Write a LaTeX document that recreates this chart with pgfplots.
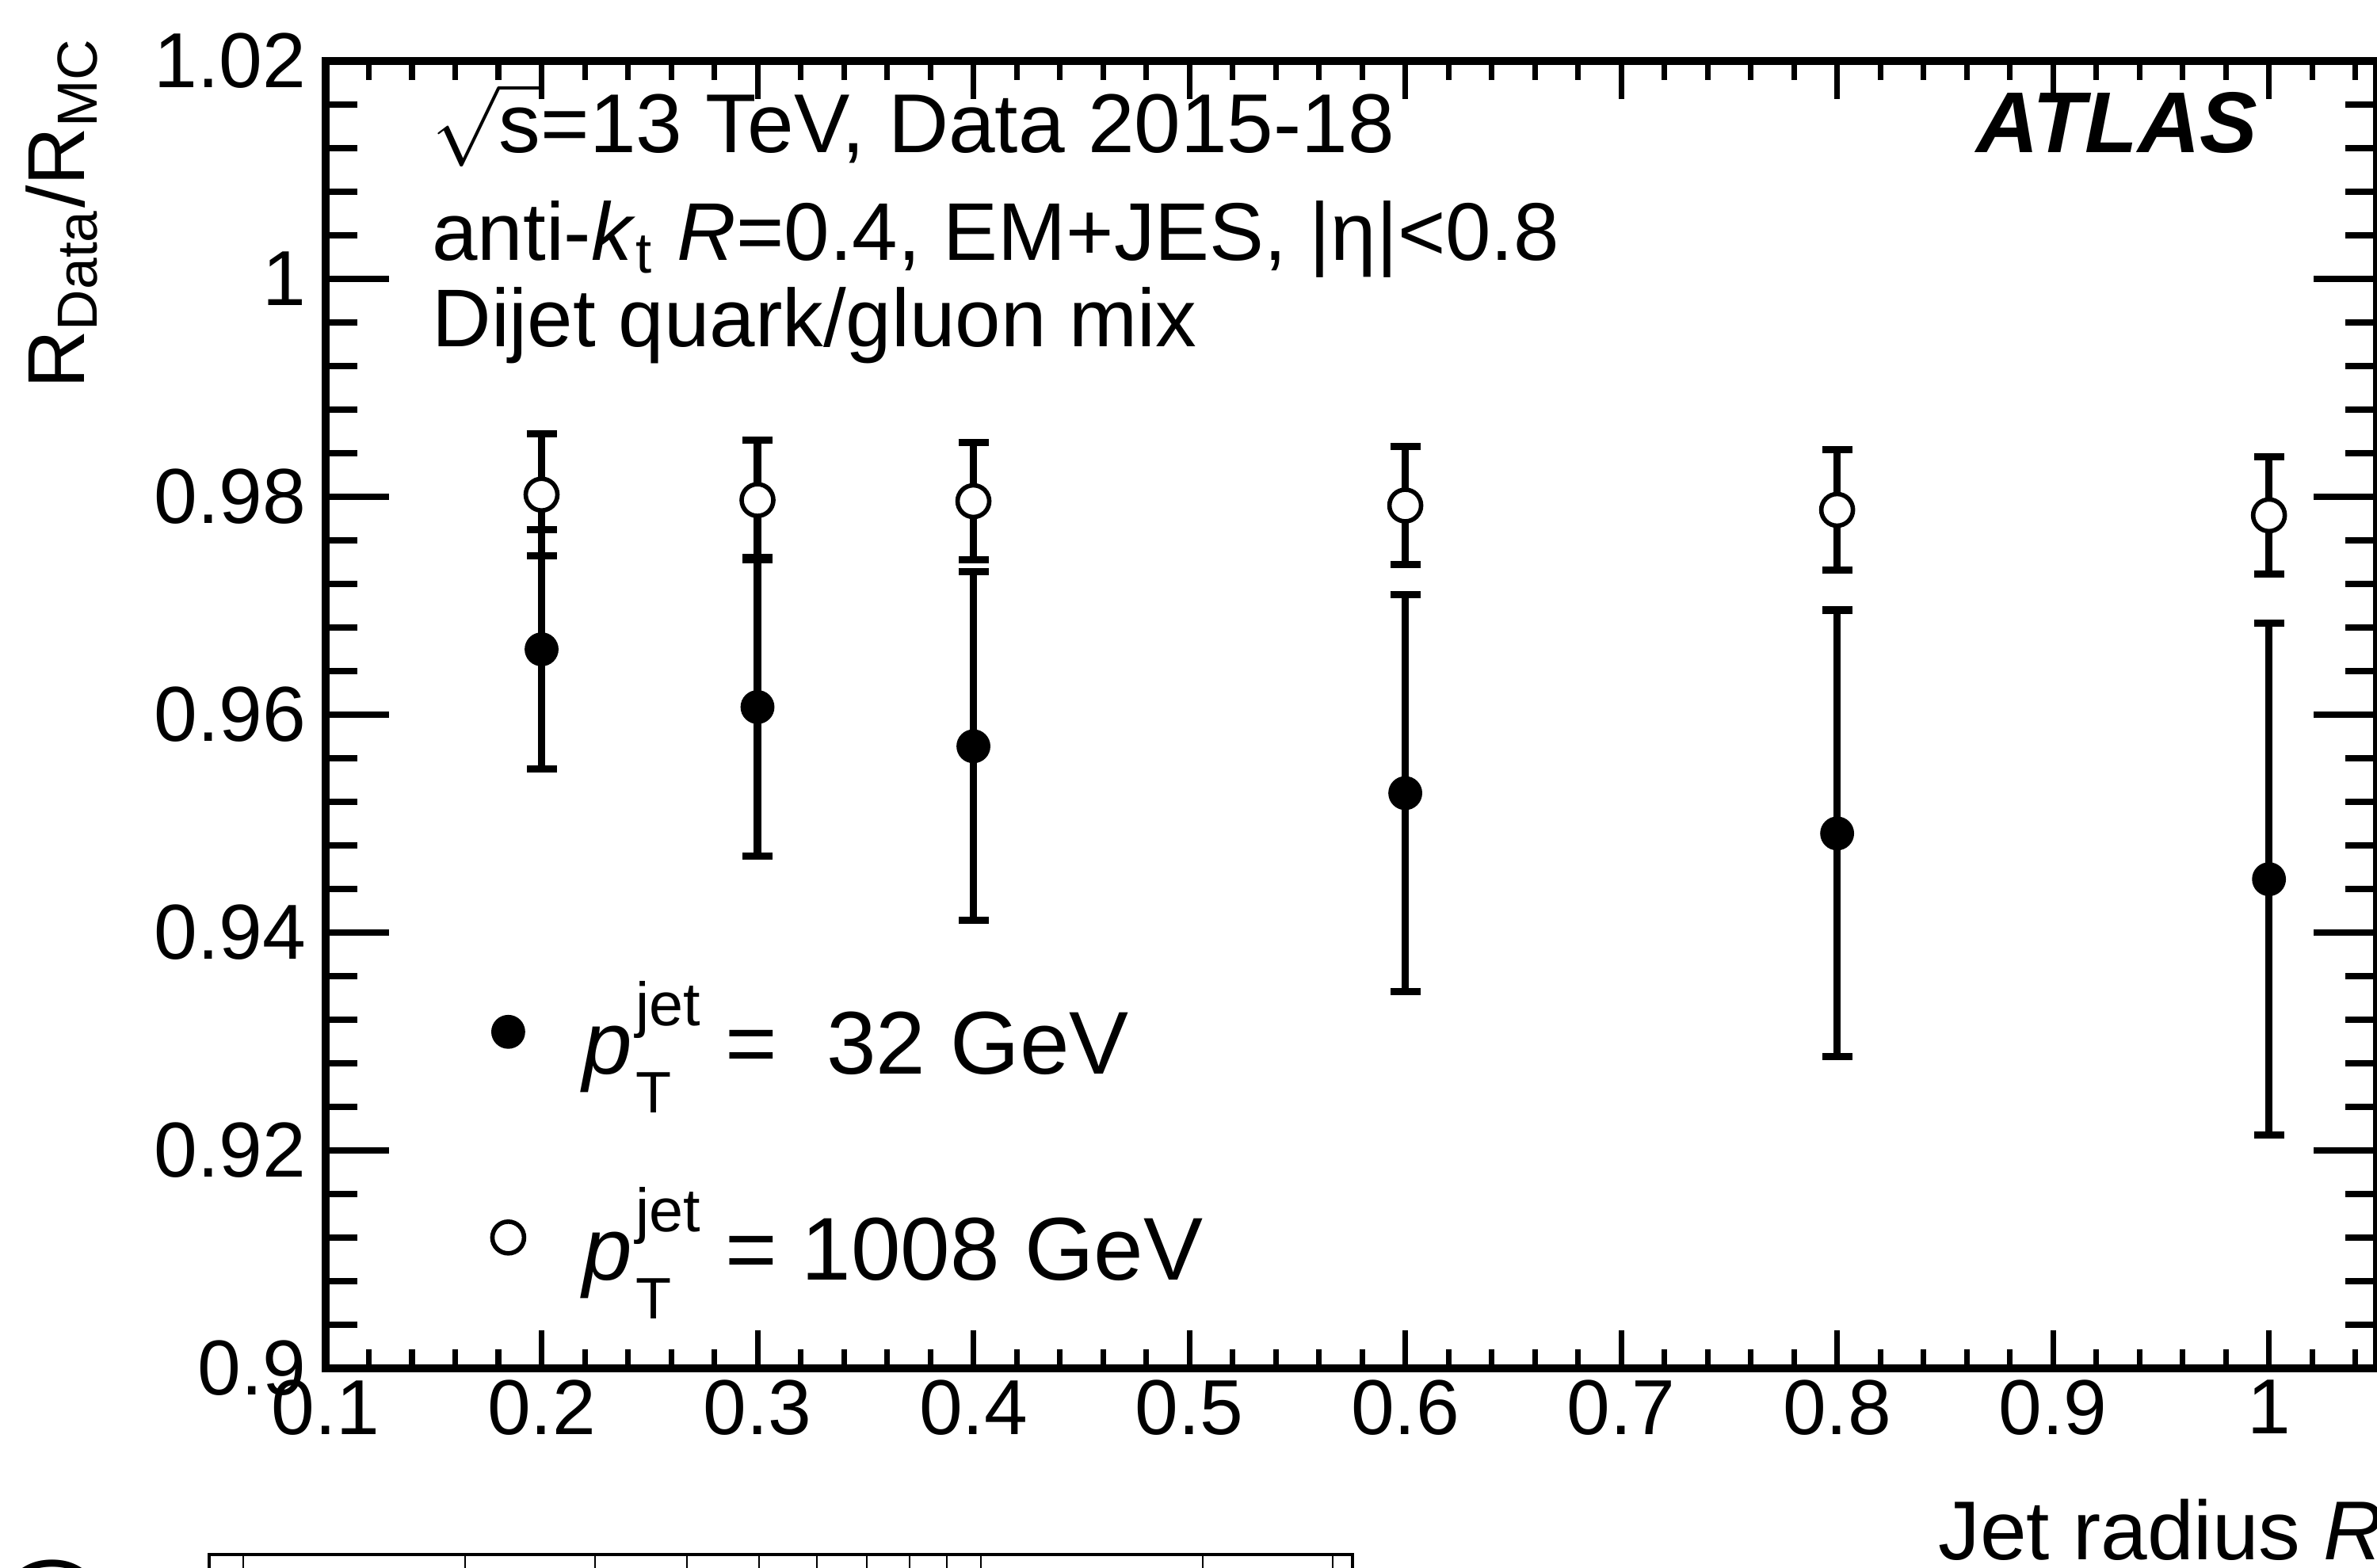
\documentclass[border=0pt]{standalone}
\usepackage{fontspec}
\setmainfont{Liberation Sans}
\usepackage{amsmath}
\usepackage{pgfplots}
\pgfplotsset{compat=1.18}
\pgfplotsset{dotlegend/.style={legend image code/.code={\draw[##1] plot coordinates {(0mm,0mm)};}}}
\newcommand\ptjet{\textit{p}\kern0.6pt\rlap{\raisebox{-2.45mm}{\fontsize{10.5}{12}\selectfont T}}\raisebox{3.05mm}{\fontsize{11}{12}\selectfont jet}}
\pgfplotstableread{
x y e
0.2 0.9660 0.0110
0.3 0.9607 0.0137
0.4 0.9571 0.0160
0.6 0.9528 0.0182
0.8 0.9491 0.0205
1.0 0.9449 0.0235
}\lowpt
\pgfplotstableread{
x y e
0.2 0.9802 0.0056
0.3 0.9797 0.0055
0.4 0.9796 0.0054
0.6 0.9792 0.0054
0.8 0.9788 0.0055
1.0 0.9783 0.0054
}\highpt
\begin{document}
\begin{tikzpicture}
\useasboundingbox (0mm,0mm) rectangle (150mm,98.9mm);
\clip (0mm,0mm) rectangle (150mm,98.9mm);
% main axis with data and x ticks
\begin{axis}[
  at={(20.55mm,12.55mm)}, anchor=south west,
  width=129.45mm, height=82.5mm, scale only axis,
  xmin=0.1, xmax=1.05, ymin=0.9, ymax=1.02,
  xtick={0.1,0.2,0.3,0.4,0.5,0.6,0.7,0.8,0.9,1.0},
  xticklabels={0.1,0.2,0.3,0.4,0.5,0.6,0.7,0.8,0.9,1},
  minor xtick={0.1,0.12,...,1.045},
  ytick=\empty,
  major tick length=2.4mm, minor tick length=1.2mm,
  axis line style={line width=1.3pt},
  every tick/.style={black, line width=1pt},
  xticklabel style={font=\fontsize{14}{16}\selectfont, yshift=0.5mm},
  /pgf/number format/assume math mode=true,
  legend style={draw=none, fill=none, at={(axis cs:0.1767,0.92145)}, anchor=west,
    font=\fontsize{16}{19}\selectfont, row sep=6.6mm, column sep=3.7mm,
    inner sep=0pt, nodes={inner sep=0pt}},
  legend cell align=left,
]
\addplot[only marks, mark=*, mark size=1mm, black, mark options={fill=black, draw=black}, dotlegend,
  error bars/.cd, y dir=both, y explicit,
  error bar style={line width=1.3pt, black},
  error mark options={rotate=90, line width=1.3pt, black, mark size=0.95mm}]
  table[x=x, y=y, y error=e] {\lowpt};
\addlegendentry{\ptjet\ =~~32 GeV}
\addplot[only marks, mark=*, mark size=1mm, black, mark options={fill=white, draw=black, line width=0.8pt}, dotlegend,
  error bars/.cd, y dir=both, y explicit,
  error bar style={line width=1.3pt, black},
  error mark options={rotate=90, line width=1.3pt, black, mark size=0.95mm}]
  table[x=x, y=y, y error=e] {\highpt};
\addlegendentry{\ptjet\ = 1008 GeV}
\end{axis}
% overlay axis for y ticks
\begin{axis}[
  at={(20.55mm,12.55mm)}, anchor=south west,
  width=129.45mm, height=82.5mm, scale only axis,
  xmin=0.1, xmax=1.05, ymin=0.9, ymax=1.02,
  xtick=\empty,
  ytick={0.9,0.92,0.94,0.96,0.98,1.0,1.02},
  yticklabels={0.9,0.92,0.94,0.96,0.98,1,1.02},
  minor ytick={0.9,0.904,...,1.0205},
  major tick length=4mm, minor tick length=2mm,
  axis line style={line width=1.3pt},
  every tick/.style={black, line width=1pt},
  yticklabel style={font=\fontsize{14}{16}\selectfont},
  /pgf/number format/assume math mode=true,
]
\end{axis}
% fragment of the panel below
\begin{axis}[
  at={(13.2mm,0.8mm)}, anchor=north west,
  width=72.15mm, height=30mm, scale only axis,
  xmode=log, xmin=9, xmax=319, ymin=0, ymax=1,
  xtick={10,100}, minor xtick={20,30,40,50,60,70,80,90,200,300},
  xticklabels={}, ytick=\empty,
  major tick length=3mm, minor tick length=3mm,
  axis line style={line width=0.6pt},
  every tick/.style={black, line width=0.3pt},
]
\end{axis}
\node[rotate=90, anchor=base east, inner sep=0pt, font=\fontsize{14.5}{17}\selectfont] at (5.35mm,96.65mm) {R\textsubscript{Data}/R\textsubscript{MC}};
\node[anchor=base west, inner sep=0pt, font=\fontsize{15}{18}\selectfont] at (27.2mm,89.3mm) {\(\sqrt{\text{s}}\)=13 TeV, Data 2015-18};
\node[anchor=base west, inner sep=0pt, font=\fontsize{14.7}{18}\selectfont] at (27.2mm,82.45mm) {anti-\textit{k}\textsubscript{t} \textit{R}=0.4, EM+JES, |η|<0.8};
\node[anchor=base west, inner sep=0pt, font=\fontsize{14.7}{18}\selectfont] at (27.2mm,77.0mm) {Dijet quark/gluon mix};
\node[anchor=base east, inner sep=0pt, font=\bfseries\itshape\fontsize{15.5}{18}\selectfont] at (142.55mm,89.3mm) {ATLAS};
\node[anchor=base west, inner sep=0pt, font=\fontsize{15}{18}\selectfont] at (122.25mm,0.5mm) {Jet radius \textit{R}};
\node[rotate=90, anchor=east, inner sep=0pt, font=\fontsize{14.5}{17}\selectfont] at (3.3mm,0.85mm) {)};
\end{tikzpicture}
\end{document}
